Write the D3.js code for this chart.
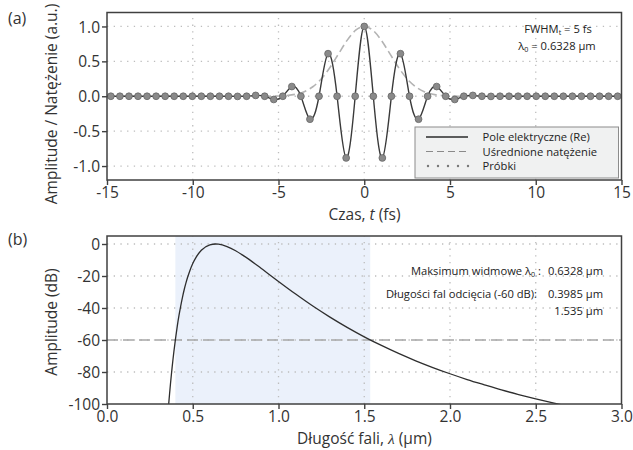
<!DOCTYPE html>
<html>
<head>
<meta charset="utf-8">
<script src="https://cdn.jsdelivr.net/npm/d3@7"></script>
<style>
  html, body { margin: 0; padding: 0; background: #fff; }
  svg { display: block; font-family: "Open Sans", sans-serif; }
</style>
</head>
<body>
<svg id="chart" width="633" height="450"></svg>
<script>
// ---- Panel (a): sampled few-cycle pulse ----
const fieldTimes = [
  -14.776, -14.248, -13.720, -13.193, -12.665, -12.137, -11.609, -11.082, -10.554, -10.026,
  -9.499, -8.971, -8.443, -7.916, -7.388, -6.860, -6.332, -5.805, -5.277, -4.749,
  -4.222, -3.694, -3.166, -2.639, -2.111, -1.583, -1.055, -0.528, 0,
  0.528, 1.055, 1.583, 2.111, 2.639, 3.166, 3.694, 4.222, 4.749, 5.277,
  5.805, 6.332, 6.860, 7.388, 7.916, 8.443, 8.971, 9.499, 10.026, 10.554,
  11.082, 11.609, 12.137, 12.665, 13.193, 13.720, 14.248, 14.776
];
const fieldValues = [
  0, 0, 0, 0, 0, 0, 0, 0, 0, 0,
  0, 0, 0, 0, -0.002, 0, 0.012, 0, -0.046, 0,
  0.139, 0, -0.329, 0, 0.610, 0, -0.884, 0, 1,
  0, -0.884, 0, 0.610, 0, -0.329, 0, 0.139, 0, -0.046,
  0, 0.012, 0, -0.002, 0, 0, 0, 0, 0, 0,
  0, 0, 0, 0, 0, 0, 0, 0
];
const intensityTimes = [
  -15, -8, -6, -5.5, -5, -4.5, -4, -3.5, -3, -2.5, -2, -1.5, -1, -0.5,
  0, 0.5, 1, 1.5, 2, 2.5, 3, 3.5, 4, 4.5, 5, 5.5, 6, 8, 15
];
const intensityValues = [
  0, 0, 0, 0.001, 0.004, 0.011, 0.029, 0.066, 0.136, 0.250, 0.412, 0.607, 0.801, 0.946,
  1, 0.946, 0.801, 0.607, 0.412, 0.250, 0.136, 0.066, 0.029, 0.011, 0.004, 0.001, 0, 0, 0
];
const timeTicks = [-15, -10, -5, 0, 5, 10, 15];
const timeTickLabels = ["-15", "-10", "-5", "0", "5", "10", "15"];
const ampTicks = [1, 0.5, 0, -0.5, -1];
const ampTickLabels = ["1.0", "0.5", "0.0", "-0.5", "-1.0"];
const legendLabels = ["Pole elektryczne (Re)", "Uśrednione natężenie", "Próbki"];

// ---- Panel (b): spectrum in dB versus wavelength ----
const spectrumWavelengths = [
  0.35, 0.36, 0.365, 0.37, 0.375, 0.38, 0.385, 0.39, 0.40, 0.41, 0.42, 0.43, 0.44, 0.45,
  0.46, 0.47, 0.48, 0.50, 0.52, 0.55, 0.60, 0.6328, 0.65, 0.70, 0.75, 0.80, 0.90, 1.0,
  1.1, 1.2, 1.3, 1.4, 1.5, 1.6, 1.7, 1.8, 1.9, 2.0, 2.1, 2.2, 2.3, 2.4, 2.5, 2.6, 2.7
];
const spectrumDb = [
  -113.3, -99.6, -93.4, -87.5, -82.0, -76.8, -71.9, -67.3, -58.8, -51.2, -44.5, -38.6, -33.3, -28.6,
  -24.5, -20.8, -17.6, -12.2, -8.2, -3.9, -0.5, 0, -0.1, -1.6, -4.2, -7.6, -15.3, -23.4,
  -31.3, -38.8, -45.7, -52.1, -58.0, -63.4, -68.4, -73.0, -77.2, -81.1, -84.7, -88.0, -91.2, -94.1, -96.8, -99.3, -101.7
];
const cutoffWavelengths = [0.3985, 1.535];
const cutoffLevel = -60;
const peakWavelength = 0.6328;
const wlTicks = [0, 0.5, 1.0, 1.5, 2.0, 2.5, 3.0];
const wlTickLabels = ["0.0", "0.5", "1.0", "1.5", "2.0", "2.5", "3.0"];
const dbTicks = [0, -20, -40, -60, -80, -100];
const dbTickLabels = ["0", "-20", "-40", "-60", "-80", "-100"];

const svg = d3.select("#chart");
const FRAME = "#404040";
const GRID = "#bdbdbd";
const NOTE_SIZE = 11.2;

const left = 107, right = 621.5;

const xT = d3.scaleLinear().domain([-15, 15]).range([left, right]);
const yA = d3.scaleLinear().domain([-1.2, 1.2]).range([180, 12.5]);
const xW = d3.scaleLinear().domain([0, 3]).range([left, right]);
const yD = d3.scaleLinear().domain([-100, 5]).range([404, 236]);

function panel(id, xs, ys) {
  const g = svg.append("g");
  const [x0, x1] = xs.range();
  const [y0, y1] = ys.range();
  g.append("clipPath").attr("id", id)
    .append("rect").attr("x", x0).attr("y", y1).attr("width", x1 - x0).attr("height", y0 - y1);
  return g;
}

function gridLines(g, xs, ys, xVals, yVals) {
  const [x0, x1] = xs.range();
  const [y0, y1] = ys.range();
  g.append("g").selectAll("line.v").data(xVals).join("line")
    .attr("x1", d => xs(d)).attr("x2", d => xs(d)).attr("y1", y0).attr("y2", y1)
    .attr("stroke", GRID).attr("stroke-width", 1.3).attr("stroke-dasharray", "1.3,5.4");
  g.append("g").selectAll("line.h").data(yVals).join("line")
    .attr("x1", x0).attr("x2", x1).attr("y1", d => ys(d)).attr("y2", d => ys(d))
    .attr("stroke", GRID).attr("stroke-width", 1.3).attr("stroke-dasharray", "1.3,5.4");
}

function axesAndFrame(g, xs, ys, xt, xl, yt, yl) {
  const [x0, x1] = xs.range();
  const [y0, y1] = ys.range();
  const ax = g.append("g").attr("transform", `translate(0,${y0})`)
    .call(d3.axisBottom(xs).tickValues(xt).tickFormat((d, i) => xl[i]).tickSize(5).tickSizeOuter(0).tickPadding(1.5));
  const ay = g.append("g").attr("transform", `translate(${x0},0)`)
    .call(d3.axisLeft(ys).tickValues(yt).tickFormat((d, i) => yl[i]).tickSize(5).tickSizeOuter(0).tickPadding(2));
  [ax, ay].forEach(a => {
    a.select(".domain").remove();
    a.selectAll(".tick line").attr("stroke", FRAME).attr("stroke-width", 1.4);
    a.selectAll(".tick text").attr("fill", "#333").attr("font-size", 15.5)
      .attr("font-family", "'Open Sans', sans-serif");
  });
  ay.selectAll(".tick text").attr("dy", "0.36em");
  g.append("rect").attr("x", x0).attr("y", y1).attr("width", x1 - x0).attr("height", y0 - y1)
    .attr("fill", "none").attr("stroke", FRAME).attr("stroke-width", 1.5);
}

// ================= Panel (a) =================
const ga = panel("clipA", xT, yA);
gridLines(ga, xT, yA, [-10, -5, 0, 5, 10], [1, 0.5, 0, -0.5, -1]);

const plotA = ga.append("g").attr("clip-path", "url(#clipA)");

const intensityLine = d3.line()
  .x((d, i) => xT(intensityTimes[i])).y(d => yA(d)).curve(d3.curveMonotoneX);
plotA.append("path").datum(intensityValues).attr("d", intensityLine)
  .attr("fill", "none").attr("stroke", "#b3b3b3").attr("stroke-width", 1.6)
  .attr("stroke-dasharray", "8,4");

const fieldLine = d3.line()
  .x((d, i) => xT(fieldTimes[i])).y(d => yA(d)).curve(d3.curveNatural);
plotA.append("path").datum(fieldValues).attr("d", fieldLine)
  .attr("fill", "none").attr("stroke", "#3a3a3a").attr("stroke-width", 1.4);

plotA.append("g").selectAll("circle").data(fieldValues).join("circle")
  .attr("cx", (d, i) => xT(fieldTimes[i])).attr("cy", d => yA(d)).attr("r", 3.4)
  .attr("fill", "#8a8a8a").attr("stroke", "#666").attr("stroke-width", 0.8);

axesAndFrame(ga, xT, yA, timeTicks, timeTickLabels, ampTicks, ampTickLabels);

// annotation: pulse parameters
const noteA = ga.append("text").attr("x", 558).attr("y", 33).attr("text-anchor", "middle")
  .attr("font-size", NOTE_SIZE).attr("fill", "#222");
noteA.append("tspan").text("FWHM");
noteA.append("tspan").attr("font-size", 7.2).attr("dy", 2.2).text("t");
noteA.append("tspan").attr("dy", -2.2).text(" = 5 fs");
const noteB = ga.append("text").attr("x", 557).attr("y", 49.5).attr("text-anchor", "middle")
  .attr("font-size", NOTE_SIZE).attr("fill", "#222");
noteB.append("tspan").text("λ");
noteB.append("tspan").attr("font-size", 7.2).attr("dy", 2.2).text("0");
noteB.append("tspan").attr("dy", -2.2).text(" = " + peakWavelength + " μm");

// legend
const lg = ga.append("g");
lg.append("rect").attr("x", 415).attr("y", 127).attr("width", 203.5).attr("height", 51)
  .attr("fill", "#f0f1f1").attr("stroke", "#8c8c8c").attr("stroke-width", 1);
const rowY = [137, 151.5, 166];
lg.append("line").attr("x1", 426).attr("x2", 468).attr("y1", rowY[0]).attr("y2", rowY[0])
  .attr("stroke", "#2a2a2a").attr("stroke-width", 1.4);
lg.append("line").attr("x1", 426).attr("x2", 468).attr("y1", rowY[1]).attr("y2", rowY[1])
  .attr("stroke", "#8a8a8a").attr("stroke-width", 1.2).attr("stroke-dasharray", "7,4");
lg.append("g").selectAll("circle").data([0, 1, 2, 3, 4]).join("circle")
  .attr("cx", d => 428 + d * 10).attr("cy", rowY[2]).attr("r", 1.2).attr("fill", "#777");
lg.selectAll("text").data(legendLabels).join("text")
  .attr("x", 482.5).attr("y", (d, i) => rowY[i] + 4)
  .attr("font-size", 11.2).attr("fill", "#222").text(d => d);

// axis titles
const tA = svg.append("text").attr("x", 364.5).attr("y", 219.5).attr("text-anchor", "middle")
  .attr("font-size", 15.5).attr("fill", "#333");
tA.append("tspan").text("Czas, ");
tA.append("tspan").attr("font-style", "italic").text("t");
tA.append("tspan").text(" (fs)");
svg.append("text").attr("transform", "translate(57,104) rotate(-90)").attr("text-anchor", "middle")
  .attr("font-size", 15.5).attr("fill", "#333").text("Amplitude / Natężenie (a.u.)");
svg.append("text").attr("x", 8).attr("y", 24).attr("font-size", 16).attr("fill", "#333").text("(a)");

// ================= Panel (b) =================
const gb = panel("clipB", xW, yD);
gb.append("rect")
  .attr("x", xW(cutoffWavelengths[0])).attr("y", yD(5))
  .attr("width", xW(cutoffWavelengths[1]) - xW(cutoffWavelengths[0]))
  .attr("height", yD(-100) - yD(5))
  .attr("fill", "#ebf1fb");
gridLines(gb, xW, yD, [0.5, 1.0, 1.5, 2.0, 2.5], [0, -20, -40, -60, -80]);

const plotB = gb.append("g").attr("clip-path", "url(#clipB)");
plotB.append("line").attr("x1", xW(0)).attr("x2", xW(3))
  .attr("y1", yD(cutoffLevel)).attr("y2", yD(cutoffLevel))
  .attr("stroke", "#a6a6a6").attr("stroke-width", 1.3).attr("stroke-dasharray", "11,5");

const specLine = d3.line()
  .x((d, i) => xW(spectrumWavelengths[i])).y(d => yD(d)).curve(d3.curveMonotoneX);
plotB.append("path").datum(spectrumDb).attr("d", specLine)
  .attr("fill", "none").attr("stroke", "#2e2e2e").attr("stroke-width", 1.3);

axesAndFrame(gb, xW, yD, wlTicks, wlTickLabels, dbTicks, dbTickLabels);

// spectral annotations
const noteRows = gb.append("g").attr("font-size", NOTE_SIZE).attr("fill", "#222");
const r1 = noteRows.append("text").attr("x", 541).attr("y", 275).attr("text-anchor", "end");
r1.append("tspan").text("Maksimum widmowe λ");
r1.append("tspan").attr("font-size", 7.2).attr("dy", 2.2).text("0");
r1.append("tspan").attr("dy", -2.2).text(" :");
noteRows.append("text").attr("x", 603).attr("y", 275).attr("text-anchor", "end")
  .text(peakWavelength + " μm");
noteRows.append("text").attr("x", 537).attr("y", 297.5).attr("text-anchor", "end")
  .text("Długości fal odcięcia (" + cutoffLevel + " dB):");
noteRows.append("text").attr("x", 603).attr("y", 297.5).attr("text-anchor", "end")
  .text(cutoffWavelengths[0] + " μm");
noteRows.append("text").attr("x", 603).attr("y", 314.5).attr("text-anchor", "end")
  .text(cutoffWavelengths[1] + " μm");

const tB = svg.append("text").attr("x", 364.5).attr("y", 444).attr("text-anchor", "middle")
  .attr("font-size", 15.5).attr("fill", "#333");
tB.append("tspan").text("Długość fali, ");
tB.append("tspan").attr("font-style", "italic").attr("font-family", "'Liberation Serif', serif").text("λ");
tB.append("tspan").text(" (μm)");
svg.append("text").attr("transform", "translate(57,322) rotate(-90)").attr("text-anchor", "middle")
  .attr("font-size", 15.5).attr("fill", "#333").text("Amplitude (dB)");
svg.append("text").attr("x", 8).attr("y", 245).attr("font-size", 16).attr("fill", "#333").text("(b)");
</script>
</body>
</html>
